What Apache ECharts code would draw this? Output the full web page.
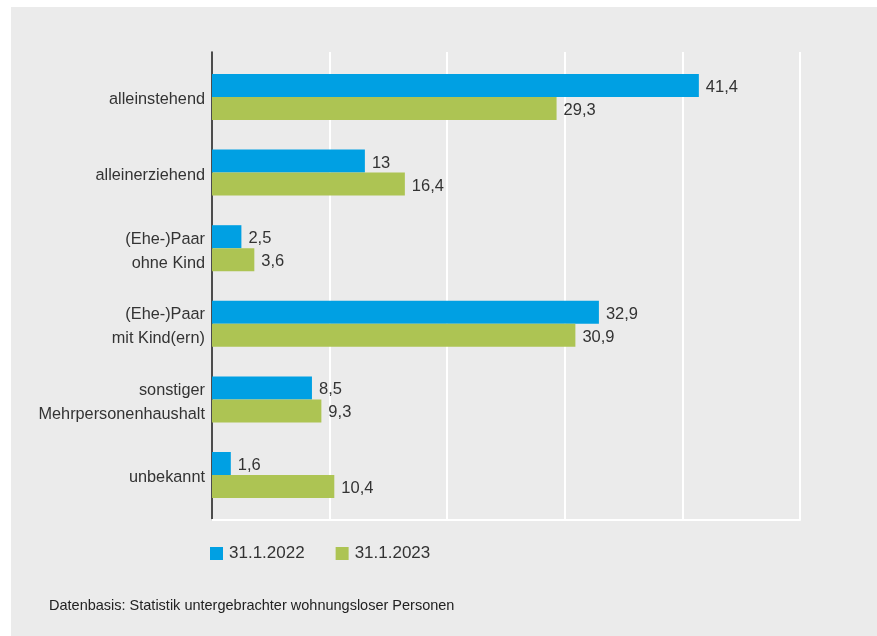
<!DOCTYPE html>
<html>
<head>
<meta charset="utf-8">
<script src="https://cdn.jsdelivr.net/npm/echarts@6/dist/echarts.min.js"></script>
<style>
html,body{margin:0;padding:0;background:#fff;}
#chart{width:877px;height:636px;}
</style>
</head>
<body>
<div id="chart"></div>
<script>
var categories = ['alleinstehend', 'alleinerziehend', '(Ehe-)Paar\nohne Kind', '(Ehe-)Paar\nmit Kind(ern)', 'sonstiger\nMehrpersonenhaushalt', 'unbekannt'];
var seriesNames = ['31.1.2022', '31.1.2023'];
var values2022 = [41.4, 13, 2.5, 32.9, 8.5, 1.6];
var values2023 = [29.3, 16.4, 3.6, 30.9, 9.3, 10.4];
var xTicks = [0, 10, 20, 30, 40, 50];
var footnote = 'Datenbasis: Statistik untergebrachter wohnungsloser Personen';

var FONT = '"Liberation Sans", Arial, sans-serif';
var TXT = '#333333';
var BLUE = '#00A0E3';
var GREEN = '#ADC453';

function fmt(v){ return String(v).replace('.', ','); }

var chart = echarts.init(document.getElementById('chart'), null, {renderer:'canvas'});
chart.setOption({
  backgroundColor: '#ffffff',
  animation: false,
  textStyle: {fontFamily: FONT},
  graphic: [
    {type:'rect', left:11, top:7, shape:{width:866, height:629}, style:{fill:'#ebebeb'}, z:-10, silent:true},
    {type:'text', left:49, top:598, style:{text:footnote, fill:'#222', font:'14.5px ' + FONT}, z:10}
  ],
  legend: {
    left: 210, top: 545, padding: 0,
    itemWidth: 13, itemHeight: 13, itemGap: 31,
    icon: 'rect',
    textStyle: {fontSize: 17, color: TXT, fontFamily: FONT, padding:[2,0,0,1]},
    data: seriesNames
  },
  grid: [
    {left:212, top:52, width:588, height:468},
    {left:212, top:59.2, width:588, height:453.6},
    {left:212, top:62.2, width:588, height:453.6}
  ],
  xAxis: [
    {type:'value', gridIndex:0, min:xTicks[0], max:xTicks[xTicks.length-1], interval:10,
     axisLine:{show:true, lineStyle:{color:'#ffffff', width:2}},
     axisTick:{show:false}, axisLabel:{show:false},
     splitLine:{show:true, lineStyle:{color:'#ffffff', width:2}}},
    {type:'value', gridIndex:1, min:xTicks[0], max:xTicks[xTicks.length-1], interval:10,
     axisLine:{show:false}, axisTick:{show:false}, axisLabel:{show:false}, splitLine:{show:false}},
    {type:'value', gridIndex:2, min:xTicks[0], max:xTicks[xTicks.length-1], interval:10, show:false}
  ],
  yAxis: [
    {type:'category', gridIndex:0, data:[''],
     axisLine:{show:true, lineStyle:{color:'#111', width:1.5}},
     axisTick:{show:false}, axisLabel:{show:false}, splitLine:{show:false}},
    {type:'category', gridIndex:1, data:categories, inverse:true,
     axisLine:{show:false}, axisTick:{show:false}, splitLine:{show:false}, axisLabel:{show:false}},
    {type:'category', gridIndex:2, data:categories, inverse:true,
     axisLine:{show:false}, axisTick:{show:false}, splitLine:{show:false},
     axisLabel:{show:true, margin:7, color:TXT, fontSize:16.3, lineHeight:24, align:'right', fontFamily:FONT}}
  ],
  series: [
    {name:seriesNames[0], type:'bar', xAxisIndex:1, yAxisIndex:1, data:values2022,
     barWidth:23, barGap:'0%', itemStyle:{color:BLUE},
     label:{show:true, position:'right', distance:7, offset:[0,2], color:TXT, fontSize:16.5, fontFamily:FONT,
            formatter:function(p){return fmt(p.value);}}},
    {name:seriesNames[1], type:'bar', xAxisIndex:1, yAxisIndex:1, data:values2023,
     barWidth:23, barGap:'0%', itemStyle:{color:GREEN},
     label:{show:true, position:'right', distance:7, offset:[0,2], color:TXT, fontSize:16.5, fontFamily:FONT,
            formatter:function(p){return fmt(p.value);}}}
  ]
});
</script>
</body>
</html>
